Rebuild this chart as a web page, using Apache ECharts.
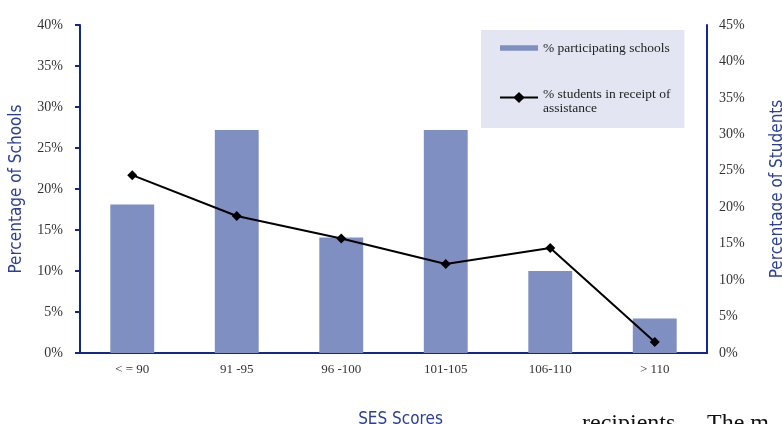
<!DOCTYPE html>
<html>
<head>
<meta charset="utf-8">
<style>
  html, body { margin: 0; padding: 0; background: #ffffff; overflow: hidden; }
  #chart { width: 782px; height: 424px; }
</style>
<script src="https://cdn.jsdelivr.net/npm/echarts@6/dist/echarts.min.js"></script>
</head>
<body>
<div id="chart"></div>
<script>
// SES score bands
const categories = ['< = 90', '91 -95', '96 -100', '101-105', '106-110', '> 110'];
// share of participating schools in each band (left axis, %)
const schoolShare = [18.1, 27.2, 14.1, 27.2, 10.0, 4.2];
// share of students in receipt of assistance (right axis, %)
const studentShare = [24.4, 18.8, 15.7, 12.2, 14.4, 1.5];
// axis tick values
const leftTicks = [0, 5, 10, 15, 20, 25, 30, 35, 40];
const rightTicks = [0, 5, 10, 15, 20, 25, 30, 35, 40, 45];

const SCHOOLS = '% participating schools';
const STUDENTS = '% students in receipt of assistance';

const NAVY = '#13288f';
const BAR = '#7f8fc1';
const SERIF = '"Liberation Serif", "Times New Roman", serif';
const NARROW = '"Liberation Sans Narrow", "DejaVu Sans Condensed", "Liberation Sans", sans-serif';

const chart = echarts.init(document.getElementById('chart'), null, { renderer: 'canvas' });

const tickLabel = {
  fontFamily: SERIF, fontSize: 14, color: '#333333',
  formatter: v => v + '%'
};

chart.setOption({
  animation: false,
  backgroundColor: '#ffffff',
  grid: { left: 80, right: 75, top: 25, bottom: 71, containLabel: false, outerBoundsMode: 'none' },
  legend: {
    orient: 'vertical',
    left: 481, top: 30,
    padding: [11, 14, 13, 18],
    backgroundColor: '#e3e6f2',
    itemWidth: 38, itemHeight: 14,
    itemGap: 25,
    textStyle: {
      fontFamily: SERIF, fontSize: 13.5, color: '#222222', lineHeight: 14,
      rich: {
        gap: { fontSize: 1, lineHeight: 7 },
        t: { fontFamily: SERIF, fontSize: 13.5, color: '#222222', lineHeight: 14 }
      }
    },
    // the second entry wraps onto two lines, its marker sitting by the first line
    formatter: name => name === STUDENTS
      ? '{gap| }\n{t|% students in receipt of}\n{t|assistance}'
      : name,
    data: [
      { name: SCHOOLS, icon: 'path://M0,0L35,0L35,5L0,5Z' },
      { name: STUDENTS }
    ]
  },
  xAxis: [{
    type: 'category',
    data: categories,
    position: 'bottom',
    axisLine: { show: true, lineStyle: { color: NAVY, width: 2 } },
    axisTick: { show: false },
    axisLabel: { fontFamily: SERIF, fontSize: 13, color: '#333333', margin: 10 },
    name: 'SES Scores',
    nameLocation: 'middle',
    nameGap: 58,
    nameTextStyle: { fontFamily: NARROW, fontSize: 17, color: '#2b3f99', padding: [0, 0, 0, 14] }
  }, {
    // top edge of the frame
    type: 'category',
    data: categories,
    position: 'top',
    axisLine: { show: true, lineStyle: { color: NAVY, width: 2 } },
    axisTick: { show: false },
    axisLabel: { show: false }
  }],
  yAxis: [{
    type: 'value',
    min: leftTicks[0], max: leftTicks[leftTicks.length - 1], interval: 5,
    position: 'left',
    axisLine: { show: true, lineStyle: { color: NAVY, width: 2 } },
    axisTick: { show: true, length: 5, lineStyle: { color: NAVY, width: 2 } },
    axisLabel: Object.assign({ margin: 17 }, tickLabel),
    splitLine: { show: false },
    name: 'Percentage of Schools',
    nameLocation: 'middle',
    nameGap: 55,
    nameTextStyle: { fontFamily: NARROW, fontSize: 17, color: '#2b3f99' }
  }, {
    type: 'value',
    min: rightTicks[0], max: rightTicks[rightTicks.length - 1], interval: 5,
    position: 'right',
    axisLine: { show: true, lineStyle: { color: NAVY, width: 2 } },
    axisTick: { show: false },
    axisLabel: Object.assign({ margin: 12 }, tickLabel),
    splitLine: { show: false },
    name: 'Percentage of Students',
    nameLocation: 'middle',
    nameGap: 62,
    nameTextStyle: { fontFamily: NARROW, fontSize: 17, color: '#2b3f99' }
  }],
  series: [{
    name: SCHOOLS,
    type: 'bar',
    yAxisIndex: 0,
    data: schoolShare,
    barWidth: '42%',
    itemStyle: { color: BAR }
  }, {
    name: STUDENTS,
    type: 'line',
    yAxisIndex: 1,
    data: studentShare,
    symbol: 'diamond',
    symbolSize: 10,
    lineStyle: { color: '#000000', width: 2 },
    itemStyle: { color: '#000000' }
  }],
  graphic: [{
    // start of the body text that follows the figure
    type: 'text',
    left: 582, top: 412,
    style: { text: 'recipients.', font: '24px ' + SERIF, fill: '#111111' }
  }, {
    type: 'text',
    left: 707, top: 412,
    style: { text: 'The m', font: '24px ' + SERIF, fill: '#111111' }
  }]
});
</script>
</body>
</html>
